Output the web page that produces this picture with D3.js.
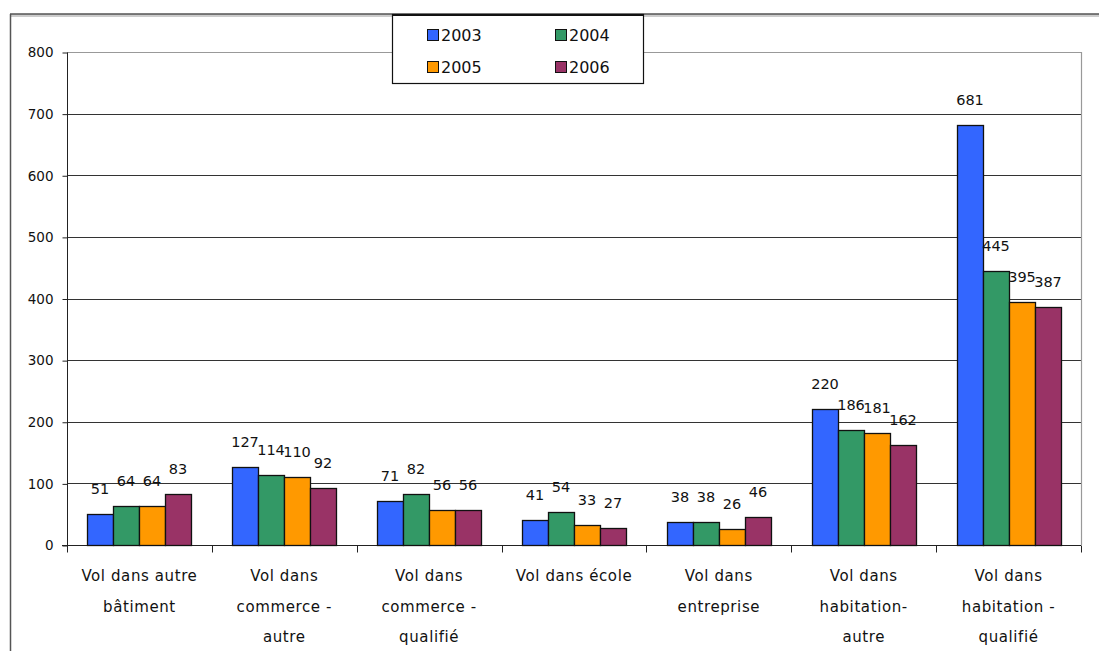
<!DOCTYPE html>
<html>
<head>
<meta charset="utf-8">
<script src="https://cdn.jsdelivr.net/npm/d3@7"></script>
<style>
  body { margin: 0; background: #fff; }
  text { font-family: "DejaVu Sans", sans-serif; fill: #111; }
</style>
</head>
<body>
<script>
var width = 1099,
    height = 651

// data
var categoryLines = [
  ["Vol dans autre", "bâtiment"],
  ["Vol dans", "commerce -", "autre"],
  ["Vol dans", "commerce -", "qualifié"],
  ["Vol dans école"],
  ["Vol dans", "entreprise"],
  ["Vol dans", "habitation-", "autre"],
  ["Vol dans", "habitation -", "qualifié"]
];
var years = ["2003", "2004", "2005", "2006"];
var v2003 = [51, 127, 71, 41, 38, 220, 681];
var v2004 = [64, 114, 82, 54, 38, 186, 445];
var v2005 = [64, 110, 56, 33, 26, 181, 395];
var v2006 = [83, 92, 56, 27, 46, 162, 387];
var yTicks = [0, 100, 200, 300, 400, 500, 600, 700, 800];
var colors = ["#3366ff", "#339966", "#ff9900", "#993366"];

var series = [v2003, v2004, v2005, v2006];

var svg = d3.select("body").append("svg")
    .attr("width", width)
    .attr("height", height);

// plot area (window.top is reserved, so prefixed names)
var pLeft = 67, pRight = 1081, pTop = 52, pBottom = 545;

var x = d3.scaleBand()
    .domain(d3.range(categoryLines.length))
    .range([pLeft, pRight])
    .paddingInner(0)
    .paddingOuter(0);

var bw = 26;
var xs = d3.scaleBand()
    .domain(years)
    .range([0, bw * 4]);

var y = d3.scaleLinear()
    .domain([0, 800])
    .range([pBottom, pTop]);

// outer frame
svg.append("line")
    .attr("x1", 10).attr("x2", width)
    .attr("y1", 15.5).attr("y2", 15.5)
    .attr("stroke", "#ccc").attr("stroke-width", 3);
svg.append("line")
    .attr("x1", 10).attr("x2", width)
    .attr("y1", 14).attr("y2", 14)
    .attr("stroke", "#555").attr("stroke-width", 1.5);
svg.append("line")
    .attr("x1", 10.5).attr("x2", 10.5)
    .attr("y1", 14).attr("y2", height)
    .attr("stroke", "#555").attr("stroke-width", 1.5);

// gridlines
svg.append("g").selectAll("line")
    .data(yTicks.filter(function(d) { return d > 0; }))
  .enter().append("line")
    .attr("x1", pLeft).attr("x2", pRight)
    .attr("y1", function(d) { return Math.round(y(d)) + 0.5; })
    .attr("y2", function(d) { return Math.round(y(d)) + 0.5; })
    .attr("stroke", function(d) { return d == 800 ? "#999" : "#333"; })
    .attr("stroke-width", 1.2);

// right border of plot area
svg.append("line")
    .attr("x1", pRight + 0.5).attr("x2", pRight + 0.5)
    .attr("y1", pTop).attr("y2", pBottom)
    .attr("stroke", "#999").attr("stroke-width", 1.2);

// y axis
var yAxis = d3.axisLeft(y)
    .tickValues(yTicks)
    .tickSize(5)
    .tickPadding(9);
var ga = svg.append("g")
    .attr("transform", "translate(" + (pLeft + 0.5) + ",0.5)")
    .call(yAxis);
ga.select(".domain").attr("stroke", "#222").attr("d", "M0," + pTop + "V" + pBottom);
ga.selectAll(".tick line").attr("stroke", "#222");
ga.selectAll(".tick text")
    .style("font-size", "13.5px")
    .style("font-family", "DejaVu Sans, sans-serif")
    .attr("fill", "#222");

// x axis
var xAxis = d3.axisBottom(x)
    .tickValues([])
    .tickSizeOuter(0);
var gx = svg.append("g")
    .attr("transform", "translate(0," + (pBottom + 0.5) + ")")
    .call(xAxis);
gx.select(".domain").attr("stroke", "#222").attr("d", "M" + (pLeft - 5) + ",0H" + pRight);
gx.selectAll(".sep")
    .data(d3.range(categoryLines.length + 1))
  .enter().append("line")
    .attr("class", "sep")
    .attr("x1", function(i) { return Math.round(pLeft + i * x.step()) + 0.5; })
    .attr("x2", function(i) { return Math.round(pLeft + i * x.step()) + 0.5; })
    .attr("y1", 0).attr("y2", 7)
    .attr("stroke", "#222");

// category labels
var cl = svg.append("g").selectAll("text")
    .data(categoryLines)
  .enter().append("text")
    .attr("text-anchor", "middle")
    .style("font-size", "15px")
    .style("letter-spacing", "0.6px")
    .attr("x", function(d, i) { return x(i) + x.bandwidth() / 2; })
    .attr("y", 581);
cl.selectAll("tspan")
    .data(function(d, i) { return d.map(function(t) { return {t: t, i: i}; }); })
  .enter().append("tspan")
    .attr("x", function(d) { return x(d.i) + x.bandwidth() / 2; })
    .attr("dy", function(d, j) { return j == 0 ? 0 : 30.5; })
    .text(function(d) { return d.t; });

// bars
var groups = svg.append("g").selectAll("g")
    .data(categoryLines)
  .enter().append("g")
    .attr("transform", function(d, i) {
      return "translate(" + Math.round(x(i) + (x.bandwidth() - bw * 4) / 2) + ",0)";
    });

groups.selectAll("rect")
    .data(function(d, i) { return years.map(function(yr, k) { return {yr: yr, k: k, v: series[k][i]}; }); })
  .enter().append("rect")
    .attr("x", function(d) { return xs(d.yr) + 0.5; })
    .attr("y", function(d) { return Math.round(y(d.v)) + 0.5; })
    .attr("width", xs.bandwidth())
    .attr("height", function(d) { return Math.round(pBottom - y(d.v)); })
    .attr("fill", function(d) { return colors[d.k]; })
    .attr("stroke", "#111")
    .attr("stroke-width", 1.3);

groups.selectAll("text.val")
    .data(function(d, i) { return years.map(function(yr, k) { return {yr: yr, k: k, v: series[k][i]}; }); })
  .enter().append("text")
    .attr("class", "val")
    .attr("text-anchor", "middle")
    .style("font-size", "14.5px")
    .attr("x", function(d) { return xs(d.yr) + xs.bandwidth() / 2; })
    .attr("y", function(d) { return y(d.v) - 20; })
    .text(function(d) { return d.v; });

// legend
var lg = svg.append("g").attr("transform", "translate(392,14)");
lg.append("rect")
    .attr("x", 0.5).attr("y", 0.5)
    .attr("width", 251).attr("height", 69)
    .attr("fill", "#fff")
    .attr("stroke", "#111").attr("stroke-width", 1.2);
lg.append("line")
    .attr("x1", 0).attr("x2", 252).attr("y1", 1).attr("y2", 1)
    .attr("stroke", "#111").attr("stroke-width", 2);
var li = lg.selectAll("g.item")
    .data(years)
  .enter().append("g")
    .attr("class", "item")
    .attr("transform", function(d, i) {
      return "translate(" + (35 + (i % 2) * 128) + "," + (15 + Math.floor(i / 2) * 32) + ")";
    });
li.append("rect")
    .attr("width", 11).attr("height", 11)
    .attr("x", 0.5).attr("y", 0.5)
    .attr("fill", function(d, i) { return colors[i]; })
    .attr("stroke", "#111");
li.append("text")
    .attr("x", 14).attr("y", 12)
    .style("font-size", "16px")
    .text(function(d) { return d; });
</script>
</body>
</html>
